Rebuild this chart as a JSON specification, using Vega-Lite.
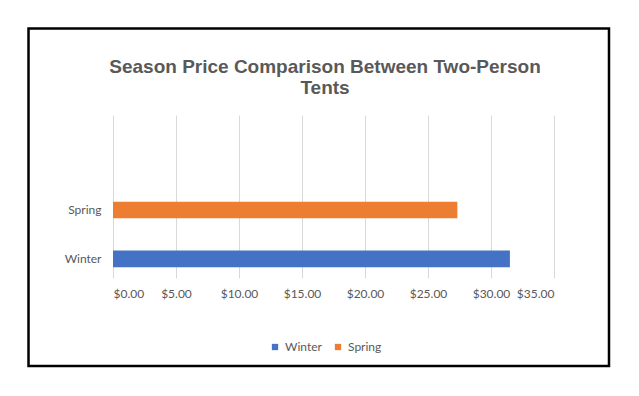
{
  "$schema": "https://vega.github.io/schema/vega-lite/v6.json",
  "width": 441,
  "height": 163,
  "autosize": {"type": "none"},
  "padding": {"left": 113, "top": 115, "right": 85, "bottom": 118},
  "background": "white",
  "title": {
    "text": ["Season Price Comparison Between Two-Person", "Tents"],
    "font": "Liberation Sans",
    "fontSize": 19,
    "fontWeight": "bold",
    "color": "#595959",
    "anchor": "middle",
    "dx": -8.5,
    "offset": 17,
    "dy": 88,
    "lineHeight": 21.5
  },
  "config": {"view": {"stroke": null}, "font": "Lato"},
  "layer": [
    {
      "data": {"values": [{"season": "Spring", "price": 27.33}, {"season": "Winter", "price": 31.5}]},
      "mark": {"type": "bar"},
      "encoding": {
        "y": {
          "field": "season", "type": "nominal", "sort": ["Spring", "Winter"],
          "scale": {"paddingInner": 0.66, "paddingOuter": 1.3, "align": 0.889},
          "axis": {"title": null, "ticks": false, "domain": false, "labelFontSize": 12, "labelColor": "#595959", "labelPadding": 12, "labelFont": "Lato"}
        },
        "x": {
          "field": "price", "type": "quantitative",
          "scale": {"domain": [0, 35], "nice": false},
          "axis": {"title": null, "values": [0, 5, 10, 15, 20, 25, 30, 35], "format": "$.2f", "ticks": false, "domain": false, "gridColor": "#d9d9d9", "labelFontSize": 12, "labelColor": "#595959", "labelPadding": 10, "labelFont": "Lato"}
        },
        "color": {
          "field": "season", "type": "nominal",
          "scale": {"domain": ["Winter", "Spring"], "range": ["#4472C4", "#ED7D31"]},
          "legend": {"orient": "none", "direction": "horizontal", "legendX": 156, "legendY": 226, "title": null, "symbolType": "square", "symbolSize": 40, "labelFontSize": 12, "labelColor": "#595959", "labelFont": "Lato", "columnPadding": 10, "symbolStrokeWidth": 0}
        }
      }
    },
    {
      "data": {"values": [{}]},
      "mark": {"type": "rect", "fill": null, "stroke": "black", "strokeWidth": 2.5, "clip": false},
      "encoding": {
        "x": {"datum": -0.1916, "type": "quantitative", "scale": {"domain": [0, 1], "nice": false, "zero": false}, "axis": null},
        "x2": {"datum": 1.1247},
        "y": {"datum": 1.5307, "type": "quantitative", "scale": {"domain": [0, 1], "nice": false, "zero": false}, "axis": null},
        "y2": {"datum": -0.54}
      }
    }
  ],
  "resolve": {"scale": {"x": "independent", "y": "independent", "color": "independent"}}
}
